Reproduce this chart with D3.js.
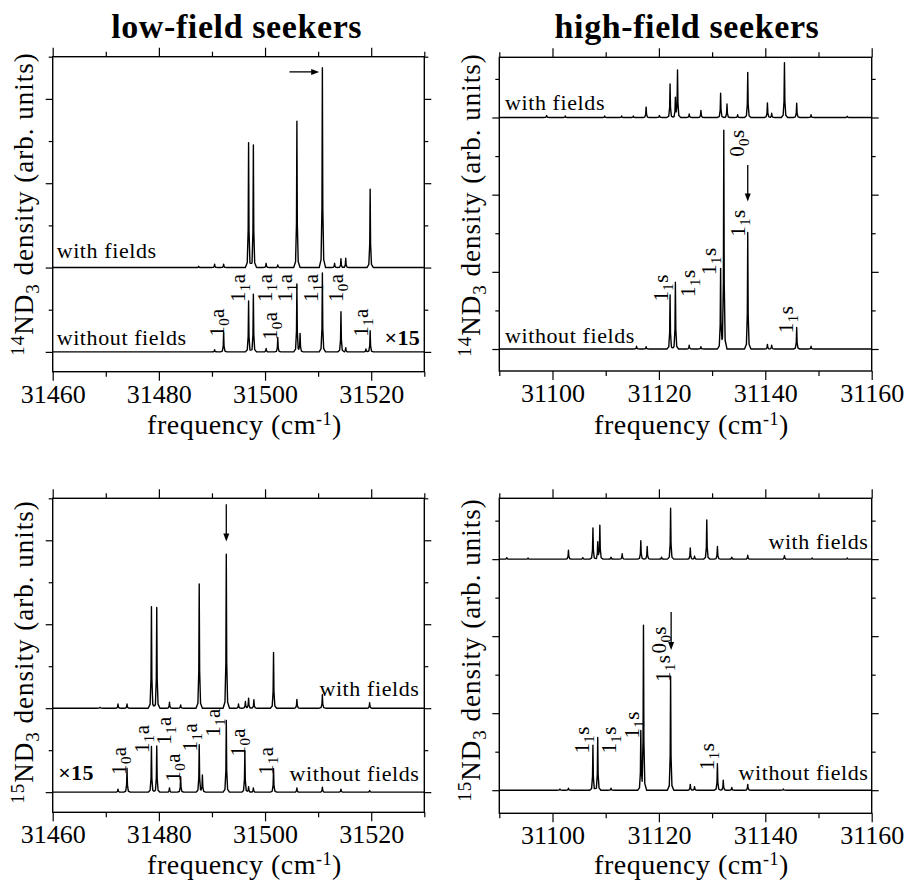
<!DOCTYPE html>
<html>
<head>
<meta charset="utf-8">
<script src="https://cdn.jsdelivr.net/npm/d3@7"></script>
<style>
  body { margin: 0; background: #fff; }
  svg text { font-family: "Liberation Serif", "Times New Roman", serif; fill: #000; }
</style>
</head>
<body>
<svg id="chart" width="905" height="880"></svg>
<script>
// ---- Peak lists: [frequency (cm-1), height (arb. units)] ----
// 14ND3, low-field seekers
const lf14With = [[31487.5,0.03],[31490.5,0.08],[31492.2,0.08],[31496.9,2.96],[31497.8,2.91],[31500.2,0.1],[31502.4,0.06],[31506.0,3.47],[31510.8,4.74],[31513.1,0.1],[31514.3,0.21],[31515.2,0.22],[31519.8,1.86]];
const lf14Without = [[31490.5,0.05],[31492.2,0.46],[31496.9,1.21],[31497.8,1.37],[31500.2,0.08],[31502.4,0.34],[31506.0,1.61],[31506.6,0.44],[31510.8,1.87],[31514.3,0.95],[31515.2,0.1],[31519.0,0.07],[31519.8,0.5]];
// 14ND3, high-field seekers
const hf14With = [[31098.9,0.05],[31102.4,0.04],[31109.8,0.04],[31113.0,0.04],[31115.2,0.04],[31117.6,0.27],[31120.1,0.05],[31122.1,0.87],[31123.1,0.5],[31123.5,1.22],[31125.7,0.09],[31127.9,0.18],[31131.6,0.63],[31132.8,0.35],[31134.8,0.07],[31136.7,1.17],[31140.4,0.38],[31141.2,0.11],[31143.6,1.42],[31145.9,0.37],[31148.6,0.07],[31155.4,0.03]];
const hf14Without = [[31115.8,0.07],[31117.6,0.06],[31122.1,1.40],[31123.1,1.73],[31125.7,0.1],[31127.9,0.06],[31131.6,2.09],[31132.2,5.67],[31136.7,3.02],[31140.4,0.12],[31141.2,0.1],[31145.9,0.56],[31148.6,0.07]];
// 15ND3, low-field seekers
const lf15With = [[31468.9,0.02],[31472.3,0.1],[31474.0,0.1],[31478.6,2.42],[31479.6,2.40],[31482.0,0.14],[31484.1,0.08],[31487.6,2.96],[31492.7,3.67],[31495.0,0.1],[31496.3,0.16],[31496.9,0.24],[31497.9,0.2],[31501.6,1.33],[31506.0,0.21],[31510.8,0.32],[31519.7,0.13]];
const lf15Without = [[31472.3,0.07],[31474.0,0.57],[31478.6,1.09],[31479.6,1.10],[31482.0,0.1],[31484.1,0.37],[31487.6,1.13],[31488.2,0.41],[31492.7,1.71],[31496.2,0.99],[31496.9,0.13],[31497.8,0.1],[31501.6,0.56],[31506.0,0.1],[31510.8,0.12],[31514.3,0.07],[31519.7,0.04]];
// 15ND3, high-field seekers
const hf15With = [[31091.4,0.04],[31095.4,0.03],[31103.0,0.23],[31105.7,0.04],[31107.6,0.81],[31108.5,0.43],[31108.9,0.87],[31111.0,0.05],[31113.1,0.14],[31116.6,0.48],[31117.8,0.33],[31120.5,0.05],[31122.2,1.32],[31125.9,0.29],[31126.7,0.08],[31129.0,1.02],[31131.0,0.33],[31133.7,0.05],[31136.7,0.1],[31143.6,0.09],[31148.8,0.03],[31155.4,0.03]];
const hf15Without = [[31101.4,0.03],[31103.0,0.05],[31107.6,1.17],[31108.5,1.37],[31111.0,0.05],[31116.6,1.5],[31117.1,4.27],[31122.2,2.96],[31125.9,0.15],[31126.7,0.09],[31131.0,0.69],[31132.1,0.26],[31133.7,0.07],[31136.7,0.15],[31143.4,0.03]];

// ---- Line assignments: [main, subscript, suffix, frequency, level] ----
const lf14Tags = [["1","0","a",31490.8,0.36],["1","1","a",31494.8,1.18],["1","1","a",31499.9,1.18],["1","0","a",31500.8,0.28],["1","1","a",31503.6,1.18],["1","1","a",31508.6,1.18],["1","0","a",31513.3,1.18],["1","1","a",31518.0,0.36]];
const hf14Tags = [["1","1","s",31120.2,1.23],["1","1","s",31125.3,1.35],["1","1","s",31129.3,1.92],["0","0","s",31134.5,4.98],["1","1","s",31134.8,2.91],["1","1","s",31143.75,0.41]];
const lf15Tags = [["1","0","a",31472.3,0.41],["1","1","a",31476.7,0.93],["1","1","a",31480.8,1.13],["1","0","a",31482.6,0.25],["1","1","a",31485.8,0.97],["1","1","a",31490.1,1.32],["1","0","a",31494.8,0.85],["1","1","a",31500.0,0.41]];
const hf15Tags = [["1","1","s",31105.5,0.95],["1","1","s",31110.5,0.95],["1","1","s",31114.9,1.34],["0","0","s",31119.9,3.55],["1","1","s",31120.6,2.81],["1","1","s",31129.0,0.52]];

// ---- Arrows marking the selected line: [x1, y1, x2, y2] (head at x2,y2) ----
const lf14Arrow = [31504.6, 6.64, 31510.2, 6.64];
const hf14Arrow = [31136.7, 4.77, 31136.7, 3.82];
const lf15Arrow = [31492.7, 6.86, 31492.7, 5.97];
const hf15Arrow = [31122.3, 4.63, 31122.3, 3.64];

// ---- Axis ticks ----
const lfTicks = [31460, 31480, 31500, 31520];
const lfMinor = [31470, 31490, 31510, 31530];
const hfTicks = [31100, 31120, 31140, 31160];
const hfMinor = [31090, 31110, 31130, 31150];
const yMajor = [0, 2, 4, 6];
const yMinor = [1, 3, 5, 7];

const titles = ["low-field seekers", "high-field seekers"];

const svg = d3.select("#chart");

// narrow line profile used for every peak
const shapeDx = [-0.6, -0.25, -0.08, 0, 0.08, 0.25, 0.6];
const shapeFr = [0, 0.04, 0.3, 1, 0.3, 0.04, 0];
function profile(d) {
  if (d <= shapeDx[0] || d >= shapeDx[shapeDx.length - 1]) return 0;
  for (let i = 1; i < shapeDx.length; i++) {
    if (d <= shapeDx[i]) {
      const t = (d - shapeDx[i - 1]) / (shapeDx[i] - shapeDx[i - 1]);
      return shapeFr[i - 1] + t * (shapeFr[i] - shapeFr[i - 1]);
    }
  }
  return 0;
}
function spectrum(peaks, offset, domain) {
  const xs = [domain[0], domain[1]];
  peaks.forEach(p => shapeDx.forEach(d => xs.push(p[0] + d)));
  const uniq = Array.from(new Set(xs.map(v => +v.toFixed(4)))).sort((a, b) => a - b);
  return uniq.map(xv => [xv, offset + d3.sum(peaks, p => p[1] * profile(xv - p[0]))]);
}

let clipId = 0;
function drawPanel(o) {
  const g = svg.append("g");
  const x = d3.scaleLinear().domain(o.xDomain).range([o.box.x0, o.box.x1]);
  const y = d3.scaleLinear().domain(o.yDomain).range([o.box.y1, o.box.y0]);

  const cid = "clip" + (clipId++);
  svg.append("clipPath").attr("id", cid).append("rect")
    .attr("x", o.box.x0).attr("y", o.box.y0)
    .attr("width", o.box.x1 - o.box.x0).attr("height", o.box.y1 - o.box.y0);

  const line = d3.line().x(d => x(d[0])).y(d => y(d[1]));
  o.traces.forEach(t => {
    g.append("path")
      .datum(spectrum(t.peaks, t.offset, o.xDomain))
      .attr("clip-path", `url(#${cid})`)
      .attr("fill", "none").attr("stroke", "#000")
      .attr("stroke-width", 1.4).attr("stroke-linejoin", "round")
      .attr("d", line);
  });

  // axes (ticks outward on all four sides)
  const styleAxis = sel => {
    sel.select(".domain").remove();
    sel.selectAll(".tick line").attr("stroke", "#000").attr("stroke-width", 1.2);
  };
  g.append("g").attr("transform", `translate(0,${o.box.y1})`)
    .call(d3.axisBottom(x).tickValues(o.major).tickSize(9).tickPadding(3.5).tickFormat(d3.format("d")))
    .call(styleAxis)
    .selectAll("text").style("font-size", "26px").attr("fill", "#000");
  g.append("g").attr("transform", `translate(0,${o.box.y1})`)
    .call(d3.axisBottom(x).tickValues(o.minor).tickSize(5).tickFormat("")).call(styleAxis);
  g.append("g").attr("transform", `translate(0,${o.box.y0})`)
    .call(d3.axisTop(x).tickValues(o.major).tickSize(9).tickFormat("")).call(styleAxis);
  g.append("g").attr("transform", `translate(0,${o.box.y0})`)
    .call(d3.axisTop(x).tickValues(o.minor).tickSize(5).tickFormat("")).call(styleAxis);
  [[d3.axisLeft, o.box.x0], [d3.axisRight, o.box.x1]].forEach(([ax, px]) => {
    g.append("g").attr("transform", `translate(${px},0)`)
      .call(ax(y).tickValues(yMajor).tickSize(7).tickFormat("")).call(styleAxis);
    g.append("g").attr("transform", `translate(${px},0)`)
      .call(ax(y).tickValues(yMinor).tickSize(4).tickFormat("")).call(styleAxis);
  });

  g.append("rect")
    .attr("x", o.box.x0).attr("y", o.box.y0)
    .attr("width", o.box.x1 - o.box.x0).attr("height", o.box.y1 - o.box.y0)
    .attr("fill", "none").attr("stroke", "#000").attr("stroke-width", 1.4);

  // line assignments, rotated
  o.tags.forEach(t => {
    const txt = g.append("text")
      .attr("transform", `translate(${x(t[3])},${y(t[4])}) rotate(-90)`)
      .attr("dy", "0.36em")
      .style("font-size", "21px").style("letter-spacing", "0.4px");
    txt.append("tspan").text(t[0]);
    txt.append("tspan").attr("dy", 5).style("font-size", "15px").text(t[1]);
    txt.append("tspan").attr("dy", -5).text(t[2]);
  });

  // arrow
  const a = o.arrow;
  const ax1 = x(a[0]), ay1 = y(a[1]), ax2 = x(a[2]), ay2 = y(a[3]);
  const len = Math.hypot(ax2 - ax1, ay2 - ay1), ux = (ax2 - ax1) / len, uy = (ay2 - ay1) / len;
  const hl = 8, hw = 3;
  g.append("line").attr("x1", ax1).attr("y1", ay1)
    .attr("x2", ax2 - ux * hl * 0.7).attr("y2", ay2 - uy * hl * 0.7)
    .attr("stroke", "#000").attr("stroke-width", 1.3);
  g.append("path")
    .attr("d", `M${ax2},${ay2} L${ax2 - ux * hl - uy * hw},${ay2 - uy * hl + ux * hw} L${ax2 - ux * hl + uy * hw},${ay2 - uy * hl - ux * hw} Z`)
    .attr("fill", "#000");

  // trace captions
  o.captions.forEach(c => {
    g.append("text").attr("x", x(c.x)).attr("y", y(c.y))
      .attr("text-anchor", c.anchor)
      .style("font-size", "22px")
      .style("font-weight", c.bold ? "bold" : "normal")
      .style("letter-spacing", c.bold ? "0.3px" : "0.6px")
      .text(c.text);
  });

  // y-axis title
  const yl = g.append("text")
    .attr("transform", `translate(${o.yTitleX},${o.yTitleY}) rotate(-90)`)
    .attr("text-anchor", "middle")
    .style("font-size", "27px").style("letter-spacing", "1px");
  yl.append("tspan").attr("dy", -9).style("font-size", "19px").text(o.isotope);
  yl.append("tspan").attr("dy", 9).text("ND");
  yl.append("tspan").attr("dy", 6).style("font-size", "19px").text("3");
  yl.append("tspan").attr("dy", -6).text(" density (arb. units)");

  // x-axis title
  const xl = g.append("text")
    .attr("x", (o.box.x0 + o.box.x1) / 2 + 6).attr("y", o.xTitleY)
    .attr("text-anchor", "middle")
    .style("font-size", "28px").style("letter-spacing", "0.5px");
  xl.append("tspan").text("frequency (cm");
  xl.append("tspan").attr("dy", -9).style("font-size", "18px").text("-1");
  xl.append("tspan").attr("dy", 9).text(")");
}

const lfDomain = [31460, 31530];
const hfDomain = [31090, 31160];

drawPanel({
  box: {x0: 52.7, x1: 424.3, y0: 56.7, y1: 371.7},
  xDomain: lfDomain, yDomain: [-0.47, 7], major: lfTicks, minor: lfMinor,
  traces: [{peaks: lf14With, offset: 2}, {peaks: lf14Without, offset: 0}],
  tags: lf14Tags, arrow: lf14Arrow,
  captions: [
    {text: "with fields", x: 31460.75, y: 2.23, anchor: "start"},
    {text: "without fields", x: 31460.75, y: 0.175, anchor: "start"},
    {text: "×15", x: 31529.2, y: 0.16, anchor: "end", bold: true}
  ],
  isotope: "14", yTitleX: 33, yTitleY: 204, xTitleY: 434
});
drawPanel({
  box: {x0: 499.3, x1: 871.7, y0: 57.3, y1: 371},
  xDomain: hfDomain, yDomain: [-0.57, 7.56], major: hfTicks, minor: hfMinor,
  traces: [{peaks: hf14With, offset: 6}, {peaks: hf14Without, offset: 0}],
  tags: hf14Tags, arrow: hf14Arrow,
  captions: [
    {text: "with fields", x: 31091.07, y: 6.19, anchor: "start"},
    {text: "without fields", x: 31091.07, y: 0.15, anchor: "start"}
  ],
  isotope: "14", yTitleX: 480, yTitleY: 205, xTitleY: 434
});
drawPanel({
  box: {x0: 52.7, x1: 424.3, y0: 498.3, y1: 812.3},
  xDomain: lfDomain, yDomain: [-0.48, 7], major: lfTicks, minor: lfMinor,
  traces: [{peaks: lf15With, offset: 2}, {peaks: lf15Without, offset: 0}],
  tags: lf15Tags, arrow: lf15Arrow,
  captions: [
    {text: "with fields", x: 31529.1, y: 2.28, anchor: "end"},
    {text: "without fields", x: 31529.1, y: 0.27, anchor: "end"},
    {text: "×15", x: 31461.05, y: 0.29, anchor: "start", bold: true}
  ],
  isotope: "15", yTitleX: 33, yTitleY: 652, xTitleY: 874
});
drawPanel({
  box: {x0: 499.3, x1: 871.7, y0: 498.3, y1: 813.3},
  xDomain: hfDomain, yDomain: [-0.6, 7.58], major: hfTicks, minor: hfMinor,
  traces: [{peaks: hf15With, offset: 6}, {peaks: hf15Without, offset: 0}],
  tags: hf15Tags, arrow: hf15Arrow,
  captions: [
    {text: "with fields", x: 31159.4, y: 6.26, anchor: "end"},
    {text: "without fields", x: 31159.4, y: 0.26, anchor: "end"}
  ],
  isotope: "15", yTitleX: 480, yTitleY: 650, xTitleY: 874
});

// column titles
svg.selectAll("text.title").data(titles).join("text")
  .attr("class", "title")
  .attr("x", (d, i) => i === 0 ? 236.7 : 687)
  .attr("y", 37.5)
  .attr("text-anchor", "middle")
  .style("font-size", "34px").style("font-weight", "bold").style("letter-spacing", "0.6px")
  .text(d => d);
</script>
</body>
</html>
